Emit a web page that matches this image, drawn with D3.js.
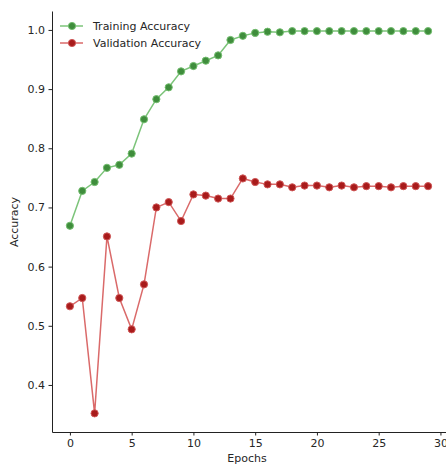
<!DOCTYPE html>
<html>
<head>
<meta charset="utf-8">
<script src="https://cdn.jsdelivr.net/npm/d3@7"></script>
<style>
  body { margin: 0; background: #fff; }
  svg text { font-family: "DejaVu Sans", sans-serif; }
</style>
</head>
<body>
<svg id="svg1" width="446" height="465"></svg>
<script>
var epochs = d3.range(30);   // 0..29
var trainAcc = [0.669, 0.728, 0.743, 0.767, 0.772, 0.791, 0.849, 0.883, 0.903, 0.930,
                0.939, 0.948, 0.957, 0.983, 0.990, 0.995, 0.997, 0.996, 0.998, 0.998,
                0.998, 0.998, 0.998, 0.998, 0.998, 0.998, 0.998, 0.998, 0.998, 0.998];
var valAcc = [0.533, 0.547, 0.352, 0.651, 0.547, 0.494, 0.570, 0.700, 0.709, 0.677,
              0.722, 0.720, 0.715, 0.715, 0.749, 0.743, 0.739, 0.739, 0.734, 0.737,
              0.737, 0.734, 0.737, 0.734, 0.736, 0.736, 0.734, 0.736, 0.736, 0.736];
var xTicks = [0, 5, 10, 15, 20, 25, 30];
var yTicks = [0.4, 0.5, 0.6, 0.7, 0.8, 0.9, 1.0];
var seriesNames = ["Training Accuracy", "Validation Accuracy"];

var svg = d3.select("#svg1");
var plotL = 52, plotR = 446, plotT = 11, plotB = 432;

var x = d3.scaleLinear().domain([-1.45, 30.45]).range([plotL, plotR]);
var y = d3.scaleLinear().domain([0.3205, 1.032]).range([plotB, plotT]);

// axes (left + bottom spines only)
var xAxis = svg.append("g")
    .attr("transform", "translate(0," + plotB + ")")
    .call(d3.axisBottom(x).tickValues(xTicks).tickFormat(d3.format("d"))
        .tickSizeInner(3.5).tickSizeOuter(0).tickPadding(3.5));
var yAxis = svg.append("g")
    .attr("transform", "translate(" + plotL + ",0)")
    .call(d3.axisLeft(y).tickValues(yTicks).tickFormat(d3.format(".1f"))
        .tickSizeInner(3.5).tickSizeOuter(0).tickPadding(3.5));

[xAxis, yAxis].forEach(function(a) {
    a.select(".domain").attr("stroke", "#222").attr("stroke-width", 1);
    a.selectAll(".tick line").attr("stroke", "#222");
    a.selectAll(".tick text").attr("fill", "#262626").style("font-size", "11px");
});

svg.append("text").attr("x", 247).attr("y", 462)
    .attr("text-anchor", "middle").style("font-size", "11px").attr("fill", "#262626")
    .text("Epochs");
svg.append("text").attr("transform", "translate(18," + 222 + ") rotate(-90)")
    .attr("text-anchor", "middle").style("font-size", "11px").attr("fill", "#262626")
    .text("Accuracy");

// series
var styles = [
    { data: trainAcc, line: "#7cc47a", face: "#3f8d3c", edge: "#72bd6e" },
    { data: valAcc,   line: "#da6a6a", face: "#a81b1b", edge: "#cf5656" }
];

var lineGen = d3.line()
    .x(function(d, i) { return x(epochs[i]); })
    .y(function(d) { return y(d); });

styles.forEach(function(s) {
    svg.append("path").datum(s.data)
        .attr("d", lineGen)
        .attr("fill", "none")
        .attr("stroke", s.line)
        .attr("stroke-width", 1.5);
    svg.append("g").selectAll("circle")
        .data(s.data)
        .enter()
        .append("circle")
        .attr("cx", function(d, i) { return x(epochs[i]); })
        .attr("cy", function(d) { return y(d); })
        .attr("r", 3.6)
        .attr("fill", s.face)
        .attr("stroke", s.edge)
        .attr("stroke-width", 1);
});

// legend
var legend = svg.append("g").selectAll("g")
    .data(seriesNames)
    .enter()
    .append("g")
    .attr("transform", function(d, i) { return "translate(60," + (26 + i * 17) + ")"; });
legend.append("line")
    .attr("x1", 0).attr("x2", 23)
    .attr("stroke", function(d, i) { return styles[i].line; })
    .attr("stroke-width", 1.5);
legend.append("circle")
    .attr("cx", 12).attr("r", 3.6)
    .attr("fill", function(d, i) { return styles[i].face; })
    .attr("stroke", function(d, i) { return styles[i].edge; });
legend.append("text")
    .attr("x", 33).attr("y", 4)
    .style("font-size", "11px").attr("fill", "#262626")
    .text(function(d) { return d; });
</script>
</body>
</html>
